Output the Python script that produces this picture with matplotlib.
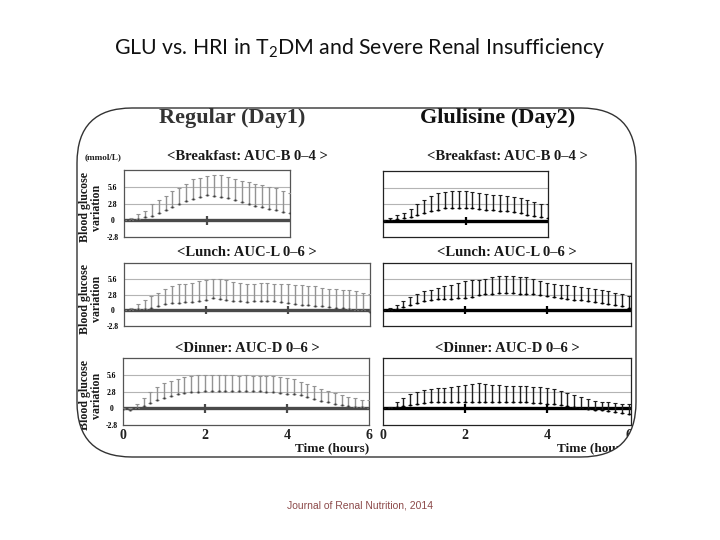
import numpy as np
import matplotlib.pyplot as plt
from matplotlib.patches import FancyBboxPatch, PathPatch
from matplotlib.path import Path

plt.rcParams['mathtext.fontset'] = 'custom'
plt.rcParams['mathtext.default'] = 'regular'

# readings every 10 min: lower end = mean, upper end = mean + SD (mmol/L)
t_breakfast = np.arange(0, 241, 10) / 60.0
t_meal6 = np.arange(0, 361, 10) / 60.0

reg_b_mean = [0.0, 0.1, 0.2, 0.5, 0.8, 1.3, 1.8, 2.3, 2.8, 3.3, 3.6, 4.0, 4.2,
              4.1, 4.0, 3.8, 3.4, 3.1, 2.8, 2.5, 2.2, 2.0, 1.8, 1.5, 1.3]
reg_b_upper = [0.1, 0.4, 1.0, 1.6, 2.8, 3.4, 4.1, 4.9, 5.4, 6.2, 6.9, 7.2, 7.5,
               7.7, 7.7, 7.4, 7.0, 6.7, 6.4, 6.1, 6.0, 5.7, 5.4, 5.0, 4.6]
glu_b_mean = [0.0, 0.1, 0.2, 0.4, 0.7, 1.0, 1.3, 1.6, 1.9, 2.1, 2.2, 2.2, 2.2,
              2.1, 2.0, 1.9, 1.8, 1.7, 1.6, 1.5, 1.3, 1.0, 0.8, 0.6, 0.4]
glu_b_upper = [0.1, 0.5, 0.95, 1.3, 2.0, 2.8, 3.6, 4.2, 4.65, 4.9, 5.1, 5.0, 5.0,
               4.9, 4.65, 4.55, 4.4, 4.4, 4.2, 4.0, 3.9, 3.5, 3.2, 2.9, 2.8]

reg_l_mean = [0.0, 0.1, 0.2, 0.3, 0.5, 0.8, 1.1, 1.3, 1.4, 1.5, 1.5, 1.7, 1.9,
              2.2, 2.1, 1.9, 1.7, 1.6, 1.5, 1.6, 1.7, 1.7, 1.6, 1.5, 1.4, 1.2,
              1.0, 0.9, 0.8, 0.7, 0.6, 0.45, 0.35, 0.25, 0.15, 0.0, -0.2]
reg_l_upper = [0.1, 0.5, 1.1, 1.8, 2.6, 3.2, 3.8, 4.3, 4.7, 4.8, 4.9, 5.3, 5.5,
               5.7, 5.6, 5.4, 5.1, 4.9, 4.7, 4.8, 5.0, 4.9, 4.7, 4.8, 4.7, 4.6,
               4.5, 4.4, 4.3, 4.1, 3.9, 3.8, 3.7, 3.6, 3.4, 3.2, 3.0]
glu_l_mean = [0.0, 0.1, 0.3, 0.6, 1.0, 1.4, 1.7, 1.9, 2.0, 2.1, 2.1, 2.2, 2.3,
              2.4, 2.7, 2.9, 3.0, 3.1, 3.1, 3.1, 3.0, 3.0, 2.9, 2.7, 2.5, 2.4,
              2.2, 2.0, 1.9, 1.8, 1.7, 1.5, 1.3, 1.1, 0.9, 0.7, 0.5]
glu_l_upper = [0.1, 0.4, 0.9, 1.6, 2.4, 3.0, 3.4, 3.7, 4.0, 4.3, 4.6, 4.9, 5.2,
               5.4, 5.5, 5.7, 5.9, 6.1, 6.1, 6.1, 6.0, 5.9, 5.7, 5.3, 4.9, 4.8,
               4.6, 4.5, 4.3, 4.2, 4.0, 3.8, 3.6, 3.4, 3.2, 2.9, 2.6]

reg_d_mean = [-0.1, -0.2, 0.0, 0.4, 0.9, 1.4, 1.8, 2.1, 2.4, 2.6, 2.7, 2.8, 2.9,
              2.9, 2.9, 2.9, 2.9, 2.9, 3.0, 3.0, 2.9, 2.8, 2.7, 2.6, 2.5, 2.4,
              2.2, 1.9, 1.6, 1.3, 1.0, 0.8, 0.6, 0.4, 0.3, 0.2, 0.1]
reg_d_upper = [0.0, 0.1, 0.8, 1.7, 2.8, 3.6, 4.2, 4.7, 5.0, 5.3, 5.4, 5.6, 5.7,
               5.7, 5.6, 5.6, 5.6, 5.5, 5.6, 5.5, 5.5, 5.4, 5.4, 5.3, 5.2, 4.9,
               4.5, 4.1, 3.7, 3.3, 3.0, 2.6, 2.3, 2.0, 1.7, 1.5, 1.4]
glu_d_mean = [0.0, 0.0, 0.2, 0.4, 0.6, 0.8, 0.9, 1.0, 1.0, 1.0, 1.1, 1.1, 1.1,
              1.1, 1.1, 1.1, 1.0, 1.0, 1.0, 1.0, 1.0, 1.0, 0.9, 0.9, 0.8, 0.7,
              0.6, 0.4, 0.2, 0.0, -0.1, -0.2, -0.3, -0.5, -0.6, -0.8, -1.0]
glu_d_upper = [0.1, 0.3, 1.0, 1.8, 2.4, 2.8, 3.1, 3.2, 3.4, 3.5, 3.6, 3.8, 3.9,
               4.1, 4.2, 4.1, 4.0, 3.9, 3.8, 3.8, 3.7, 3.7, 3.6, 3.6, 3.4, 3.3,
               3.0, 2.6, 2.3, 2.0, 1.6, 1.3, 1.1, 1.0, 0.9, 0.8, 0.7]

meal_titles = ['<Breakfast: AUC-B 0\u20134 >', '<Lunch: AUC-L 0\u20136 >',
               '<Dinner: AUC-D 0\u20136 >']
day_titles = ['Regular (Day1)', 'Glulisine (Day2)']
yticks = [-2.8, 0, 2.8, 5.6]
ytick_labels = ['-2.8', '0', '2.8', '5.6']
xticks = [0, 2, 4, 6]

serif = 'Liberation Serif'

fig = plt.figure(figsize=(7.2, 5.4), dpi=100)


def px_axes(x0, y0, x1, y1):
    return fig.add_axes([x0 / 720, 1 - y1 / 540, (x1 - x0) / 720, (y1 - y0) / 540])


# pixel overlay for the rounded picture frame and the loose labels
ov = fig.add_axes([0, 0, 1, 1], zorder=10)
ov.set_xlim(0, 720)
ov.set_ylim(540, 0)
ov.axis('off')
frame = FancyBboxPatch((77, 108), 559, 349, boxstyle='round,pad=0,rounding_size=55',
                       fill=False, ec='#333333', lw=1.0, zorder=6)
ov.add_patch(frame)

# white mask outside the rounded frame (the picture is cropped to it)
inner = frame.get_path().to_polygons()[0]
outer = [(55, 92), (665, 92), (665, 478), (55, 478), (55, 92)]
mask_path = Path.make_compound_path(Path(outer, closed=True),
                                    Path(inner[::-1], closed=True))
ov.add_patch(PathPatch(mask_path, fc='white', ec='none', zorder=5))


def label(x, y, s, **kw):
    return ov.text(x, y, s, zorder=3, **kw)


def draw_panel(ax, t, mean, upper, right_col, xmax, show_y=False, show_x=False):
    mean = np.asarray(mean)
    upper = np.asarray(upper)
    bar_c = '#1e1e1e' if right_col else '#939393'
    dot_c = '#000000' if right_col else '#3c3c3c'
    line_c = '#000000' if right_col else '#4a4a4a'
    ax.set_xlim(0, xmax)
    ax.set_ylim(-2.8, 8.5)
    for y in (2.8, 5.6):
        ax.axhline(y, color='#b4b4b4', lw=0.8, zorder=1)
    ax.axhline(0, color=line_c, lw=2.4, zorder=2)
    ax.errorbar(t, mean, yerr=[np.zeros_like(mean), upper - mean], fmt='none',
                ecolor=bar_c, elinewidth=1.0, capsize=1.4, capthick=0.8, zorder=3)
    ax.plot(t, mean, ls='none', marker='s', ms=1.4, mew=0, color=dot_c, zorder=4)
    inner_ticks = [x for x in xticks if 0 < x < xmax - 0.5]
    ax.vlines(inner_ticks, -0.7, 0.7, color=line_c, lw=1.6, zorder=4)
    for sp in ax.spines.values():
        sp.set_color('#222222' if right_col else '#555555')
        sp.set_linewidth(0.9)
    ax.set_yticks(yticks)
    if show_y:
        ax.set_yticklabels(ytick_labels, fontfamily=serif, fontweight='bold',
                           fontsize=5.5, ha='center')
        ax.tick_params(axis='y', length=0, pad=8)
    else:
        ax.set_yticklabels([])
        ax.tick_params(axis='y', length=0)
    if show_x:
        ticks = [x for x in xticks if x <= xmax]
        ax.set_xticks(ticks)
        ax.set_xticklabels([str(x) for x in ticks], fontfamily=serif,
                           fontweight='bold', fontsize=10, color='#222222')
        ax.tick_params(axis='x', length=0, pad=3)
    else:
        ax.set_xticks([])


boxes = {
    (0, 0): (124, 170, 290, 237), (0, 1): (383, 171, 548, 237),
    (1, 0): (124, 263, 370, 326), (1, 1): (383, 263, 631, 326),
    (2, 0): (123, 358, 369, 425), (2, 1): (383, 358, 631, 425),
}
data = {
    (0, 0): (t_breakfast, reg_b_mean, reg_b_upper, 4),
    (0, 1): (t_breakfast, glu_b_mean, glu_b_upper, 4),
    (1, 0): (t_meal6, reg_l_mean, reg_l_upper, 6),
    (1, 1): (t_meal6, glu_l_mean, glu_l_upper, 6.05),
    (2, 0): (t_meal6, reg_d_mean, reg_d_upper, 6),
    (2, 1): (t_meal6, glu_d_mean, glu_d_upper, 6.05),
}
col_center = [247, 507]
title_y = [157, 253, 349]

for (r, c), box in boxes.items():
    ax = px_axes(*box)
    t, m, u, xmax = data[(r, c)]
    draw_panel(ax, t, m, u, c == 1, xmax, show_y=(c == 0), show_x=(r == 2))
    label(col_center[c], title_y[r], meal_titles[r], family=serif, weight='bold',
          fontsize=10.5, ha='center', va='center', color='#1a1a1a')
    if c == 0:
        label(91, (box[1] + box[3]) / 2 + 4, 'Blood glucose\nvariation', family=serif,
              weight='bold', fontsize=8.6, rotation=90, ha='center', va='center',
              linespacing=1.1, multialignment='center', color='#1a1a1a')
    if r == 2:
        label(box[2], 448, 'Time (hours)', family=serif, weight='bold',
              fontsize=9.5, ha='right', va='center', color='#1a1a1a')

label(232, 118, day_titles[0], family=serif, weight='bold', fontsize=16,
      ha='center', va='center', color='#333333')
label(498, 118, day_titles[1], family=serif, weight='bold', fontsize=16,
      ha='center', va='center', color='#111111')
label(103, 157, '(mmol/L)', family=serif, weight='bold', fontsize=6.6,
      ha='center', va='center', color='#222222')

fig.text(0.5, 1 - 48 / 540, 'GLU vs. HRI in T$_2$DM and Severe Renal Insufficiency',
         family='Lato', fontsize=15.3, ha='center', va='center', color='#111111')
fig.text(0.5, 1 - 505 / 540, 'Journal of Renal Nutrition, 2014',
         family='Liberation Sans', fontsize=7.5, ha='center', va='center',
         color='#8c4a4a')

fig.savefig('out.png', dpi=100)
